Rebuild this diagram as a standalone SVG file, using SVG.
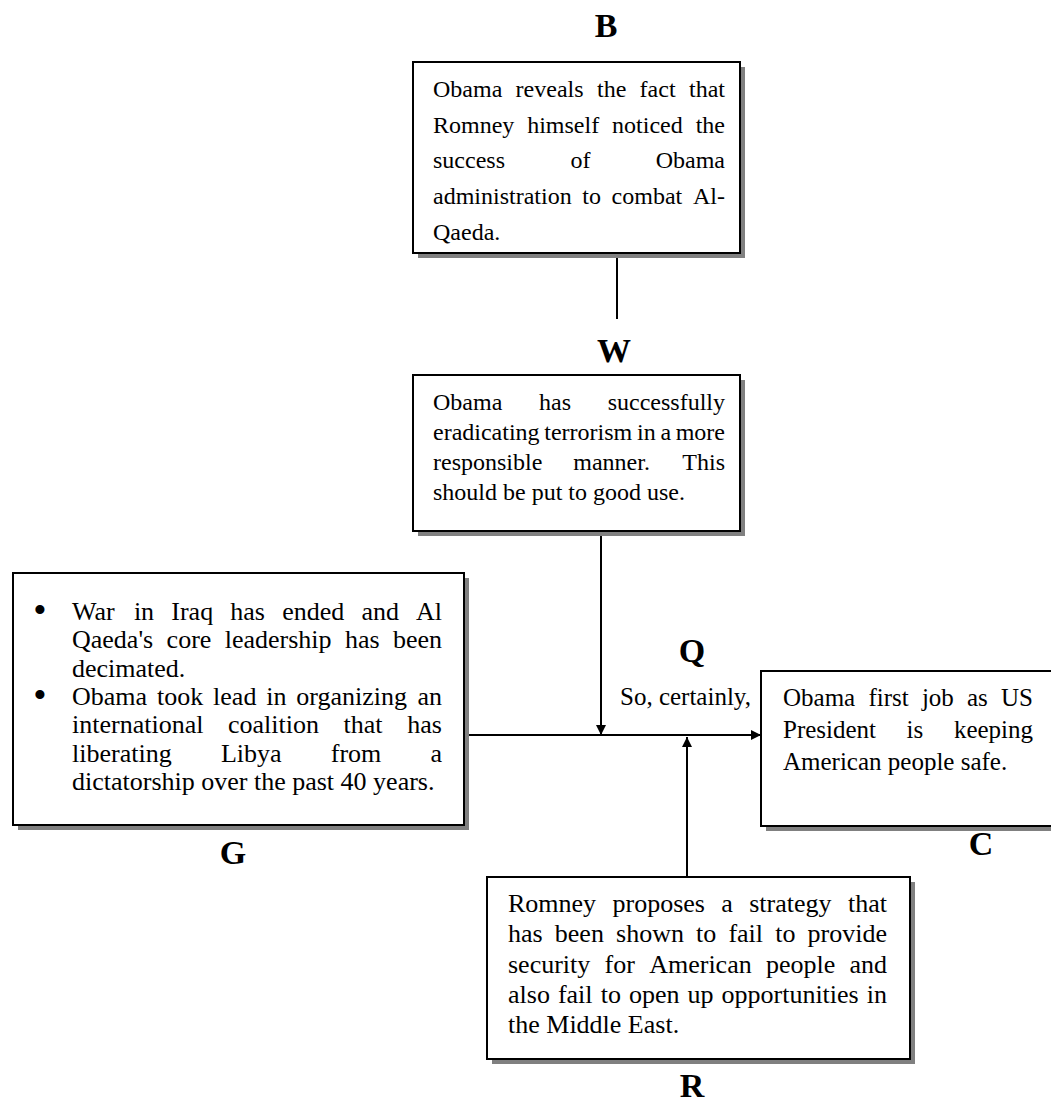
<svg xmlns="http://www.w3.org/2000/svg" width="1051" height="1104" viewBox="0 0 1051 1104">
<defs>
<style>
.box{fill:#fff;stroke:#000;stroke-width:2}
.sh{fill:#808080}
.t{font-family:"Liberation Serif","Times New Roman",serif;font-size:24px;fill:#000}
.t26{font-family:"Liberation Serif","Times New Roman",serif;font-size:26px;fill:#000}
.t25{font-family:"Liberation Serif","Times New Roman",serif;font-size:25px;fill:#000}
.bul{font-family:"Liberation Serif","Times New Roman",serif;font-size:38px;text-anchor:middle;fill:#000}
.lbl{font-family:"Liberation Serif","Times New Roman",serif;font-weight:bold;font-size:34px;text-anchor:middle;fill:#000}
.ln{stroke:#000;stroke-width:2;fill:none}
</style>
<marker id="ah" viewBox="0 0 10 10" refX="10" refY="5" markerWidth="10" markerHeight="10" markerUnits="userSpaceOnUse" orient="auto">
<path d="M0,0 L10,5 L0,10 Z" fill="#000"/>
</marker>
</defs>
<rect width="1051" height="1104" fill="#fff"/>

<g id="connectors">
<line class="ln" x1="617" y1="258" x2="617" y2="319"/>
<line class="ln" x1="601" y1="531" x2="601" y2="735" marker-end="url(#ah)"/>
<line class="ln" x1="464" y1="735" x2="761" y2="735" marker-end="url(#ah)"/>
<line class="ln" x1="687" y1="877" x2="687" y2="737" marker-end="url(#ah)"/>
</g>

<g id="node-B">
<text class="lbl" x="606" y="37">B</text>
<rect class="sh" x="418" y="67" width="327" height="191"/>
<rect class="box" x="413" y="62" width="327" height="191"/>
<text class="t" y="97"><tspan x="433">Obama</tspan><tspan x="515.6">reveals</tspan><tspan x="597">the</tspan><tspan x="639.6">fact</tspan><tspan x="689">that</tspan></text>
<text class="t" y="133"><tspan x="433">Romney</tspan><tspan x="527.2">himself</tspan><tspan x="612.1">noticed</tspan><tspan x="695.7">the</tspan></text>
<text class="t" y="168"><tspan x="433">success</tspan><tspan x="570.4">of</tspan><tspan x="655.7">Obama</tspan></text>
<text class="t" y="204"><tspan x="433">administration</tspan><tspan x="582.3">to</tspan><tspan x="611.6">combat</tspan><tspan x="693">Al-</tspan></text>
<text class="t" x="433" y="240">Qaeda.</text>
</g>

<g id="node-W">
<text class="lbl" x="614" y="362">W</text>
<rect class="sh" x="418" y="380" width="327" height="156"/>
<rect class="box" x="413" y="375" width="327" height="156"/>
<text class="t" y="410"><tspan x="433">Obama</tspan><tspan x="539">has</tspan><tspan x="607.7">successfully</tspan></text>
<text class="t" y="440"><tspan x="433">eradicating</tspan><tspan x="544.3">terrorism</tspan><tspan x="637">in</tspan><tspan x="660.4">a</tspan><tspan x="675.7">more</tspan></text>
<text class="t" y="470"><tspan x="433">responsible</tspan><tspan x="573.3">manner.</tspan><tspan x="682.3">This</tspan></text>
<text class="t" x="433" y="500">should be put to good use.</text>
</g>

<g id="node-G">
<rect class="sh" x="18" y="578" width="451" height="252"/>
<rect class="box" x="13" y="573" width="451" height="252"/>
<text class="bul" x="40" y="623">•</text>
<text class="bul" x="40" y="708">•</text>
<text class="t26" y="620"><tspan x="72">War</tspan><tspan x="133.9">in</tspan><tspan x="171.3">Iraq</tspan><tspan x="230.3">has</tspan><tspan x="282.2">ended</tspan><tspan x="361.4">and</tspan><tspan x="416">Al</tspan></text>
<text class="t26" y="648.3"><tspan x="72">Qaeda's</tspan><tspan x="166.6">core</tspan><tspan x="224.7">leadership</tspan><tspan x="344.9">has</tspan><tspan x="392.9">been</tspan></text>
<text class="t26" x="72" y="676.7">decimated.</text>
<text class="t26" y="705"><tspan x="72">Obama</tspan><tspan x="157">took</tspan><tspan x="213.1">lead</tspan><tspan x="266.2">in</tspan><tspan x="296.3">organizing</tspan><tspan x="417.5">an</tspan></text>
<text class="t26" y="733.3"><tspan x="72">international</tspan><tspan x="228">coalition</tspan><tspan x="343.6">that</tspan><tspan x="407.3">has</tspan></text>
<text class="t26" y="761.7"><tspan x="72">liberating</tspan><tspan x="220.9">Libya</tspan><tspan x="330.8">from</tspan><tspan x="430.5">a</tspan></text>
<text class="t26" x="72" y="790">dictatorship over the past 40 years.</text>
<text class="lbl" x="233" y="864">G</text>
</g>

<g id="node-Q">
<text class="lbl" x="692" y="662">Q</text>
<text class="t25" x="620" y="705">So, certainly,</text>
</g>

<g id="node-C">
<rect class="sh" x="766" y="676" width="300" height="155"/>
<rect class="box" x="761" y="671" width="300" height="155"/>
<text class="t25" y="706"><tspan x="783">Obama</tspan><tspan x="868.4">first</tspan><tspan x="921.9">job</tspan><tspan x="967">as</tspan><tspan x="1001">US</tspan></text>
<text class="t25" y="738"><tspan x="783">President</tspan><tspan x="906.6">is</tspan><tspan x="953.9">keeping</tspan></text>
<text class="t25" x="783" y="770">American people safe.</text>
<text class="lbl" x="981" y="855">C</text>
</g>

<g id="node-R">
<rect class="sh" x="492" y="882" width="423" height="182"/>
<rect class="box" x="487" y="877" width="423" height="182"/>
<text class="t26" y="912"><tspan x="508">Romney</tspan><tspan x="612.5">proposes</tspan><tspan x="721.3">a</tspan><tspan x="749.2">strategy</tspan><tspan x="848">that</tspan></text>
<text class="t26" y="942.3"><tspan x="508">has</tspan><tspan x="554.8">been</tspan><tspan x="616.1">shown</tspan><tspan x="696.1">to</tspan><tspan x="728.4">fail</tspan><tspan x="775.3">to</tspan><tspan x="807.6">provide</tspan></text>
<text class="t26" y="972.6"><tspan x="508">security</tspan><tspan x="604.6">for</tspan><tspan x="649.2">American</tspan><tspan x="766">people</tspan><tspan x="849.5">and</tspan></text>
<text class="t26" y="1003"><tspan x="508">also</tspan><tspan x="557.9">fail</tspan><tspan x="600.7">to</tspan><tspan x="628.9">open</tspan><tspan x="687.4">up</tspan><tspan x="721.5">opportunities</tspan><tspan x="866.8">in</tspan></text>
<text class="t26" x="508" y="1033">the Middle East.</text>
<text class="lbl" x="692" y="1097">R</text>
</g>
</svg>
